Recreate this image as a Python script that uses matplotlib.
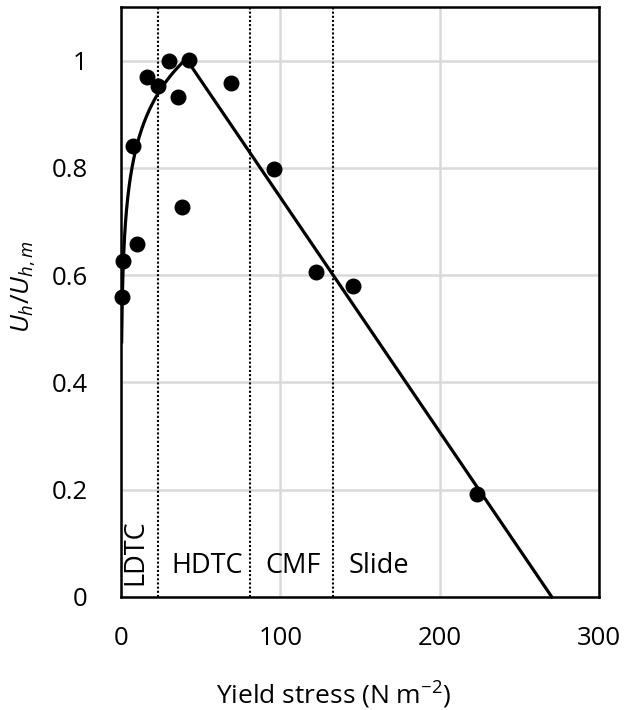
import numpy as np
import matplotlib
matplotlib.use("Agg")
import matplotlib.pyplot as plt

plt.rcParams["font.family"] = ["Open Sans", "DejaVu Sans"]
plt.rcParams["mathtext.fontset"] = "custom"
plt.rcParams["mathtext.rm"] = "Open Sans"
plt.rcParams["mathtext.it"] = "Open Sans:italic"

# measured points (yield stress, Uh/Uh,m)
stress = [0.8, 1.5, 7.7, 9.8, 16.1, 23.0, 30.3, 35.6, 38.1, 42.5, 69.1, 96.2, 122.2, 145.4, 223.7]
ratio = [0.560, 0.626, 0.841, 0.659, 0.970, 0.952, 1.000, 0.933, 0.728, 1.002, 0.958, 0.798, 0.606, 0.580, 0.192]

# rising trend (log curve)
trend_x = [0.4, 1.47, 3.1, 5.6, 8.8, 14.0, 22.4, 32.8, 41.2]
trend_y = [0.48, 0.624, 0.698, 0.773, 0.836, 0.885, 0.935, 0.976, 1.004]

# falling straight trend
fall_x = [41.0, 270.4]
fall_y = [1.003, 0.0]

# flow regime boundaries and labels
bounds = [23, 81, 133]
regimes = ["HDTC", "CMF", "Slide"]
regime_x = [53.8, 108.2, 161.9]

fig = plt.figure(figsize=(6.39, 7.10), dpi=100)
ax = fig.add_axes([121 / 639, 1 - 597 / 710, 478 / 639, 590 / 710])

ax.set_xlim(0, 300)
ax.set_ylim(0, 1.1)
ax.set_xticks([0, 100, 200, 300])
ax.set_yticks([0, 0.2, 0.4, 0.6, 0.8, 1.0])
ax.set_yticklabels(["0", "0.2", "0.4", "0.6", "0.8", "1"])
ax.grid(True, color="#d9d9d9", linewidth=1.8)
ax.set_axisbelow(True)
ax.tick_params(length=0, labelsize=18.5)
ax.tick_params(axis="y", pad=24)
ax.tick_params(axis="x", pad=21)
for s in ax.spines.values():
    s.set_linewidth(1.8)
    s.set_color("black")

for b in bounds:
    ax.axvline(b, color="black", linestyle=(0, (1, 1)), linewidth=1.5, zorder=2)

# log fit through the trend readings
a, c = np.polyfit(np.log(trend_x), trend_y, 1)
xs = np.linspace(trend_x[0], trend_x[-1], 200)
ax.plot(xs, a * np.log(xs) + c, color="black", linewidth=2.3, zorder=3)
ax.plot(fall_x, fall_y, color="black", linewidth=2.3, zorder=3, clip_on=False)

ax.scatter(stress, ratio, s=110, color="black", zorder=4, clip_on=False)

for name, x in zip(regimes, regime_x):
    ax.text(x, 0.058, name, ha="center", va="center", fontsize=19.5)
ax.text(9.1, 0.083, "LDTC", ha="center", va="center", rotation=90, fontsize=19.5)

fig.text(334 / 639, 1 - 695 / 710, r"Yield stress (N m$^{-2}$)", ha="center", va="center", fontsize=19)
fig.text(24 / 639, 1 - 287 / 710, r"$U_h/U_{h,m}$", ha="center", va="center", rotation=90, fontsize=19)

fig.savefig("out.png", dpi=100)
